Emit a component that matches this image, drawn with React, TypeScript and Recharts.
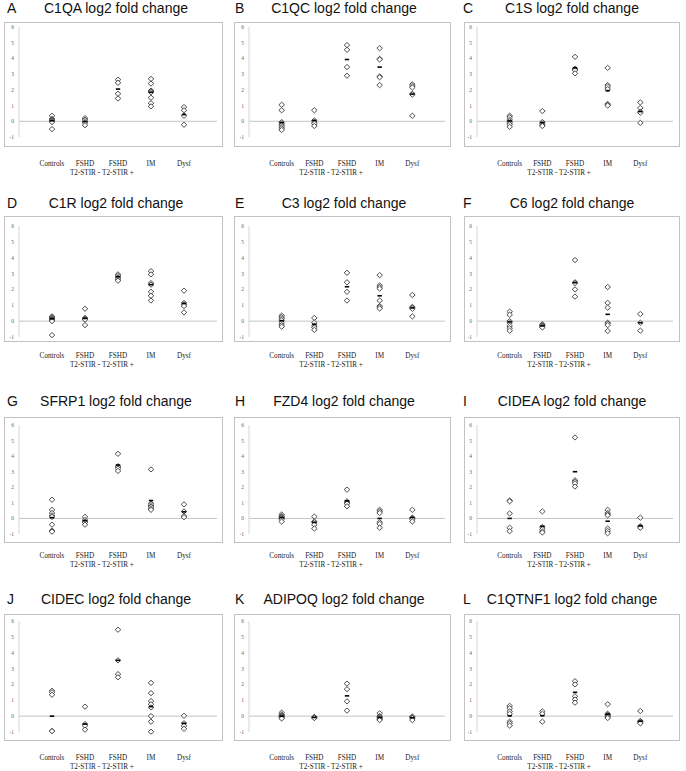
import React from 'react';
import { ScatterChart, Scatter, XAxis, YAxis, ReferenceLine } from 'recharts';

// ---------- categories / ticks ----------
const categories = ['Controls', 'FSHD\nT2-STIR -', 'FSHD\nT2-STIR +', 'IM', 'Dysf'];
const yTicks = [-1, 0, 1, 2, 3, 4, 5, 6];

// ---------- data (log2 fold change per group; means shown as dashes) ----------
const C1QA_points = [
  [0.35, 0.15, 0.1, 0.05, 0.0, -0.05, -0.5],
  [0.2, 0.1, 0.0, -0.1, -0.25],
  [2.65, 2.45, 1.75, 1.45],
  [2.7, 2.4, 1.95, 1.9, 1.85, 1.5, 1.15, 0.95],
  [0.9, 0.7, 0.35, -0.22],
];
const C1QA_means = [0.03, -0.02, 2.05, 1.85, 0.43];

const C1QC_points = [
  [1.05, 0.7, -0.05, -0.15, -0.25, -0.35, -0.45, -0.55],
  [0.7, 0.05, -0.05, -0.15, -0.3],
  [4.85, 4.55, 3.45, 2.9],
  [4.65, 3.97, 3.93, 2.85, 2.8, 2.3],
  [2.35, 2.25, 2.15, 1.75, 1.7, 0.35],
];
const C1QC_means = [-0.08, 0.05, 3.93, 3.45, 1.73];

const C1S_points = [
  [0.35, 0.25, 0.1, 0.0, -0.1, -0.2, -0.35],
  [0.65, -0.05, -0.15, -0.25, -0.3],
  [4.1, 3.35, 3.3, 3.25, 3.05],
  [3.4, 2.3, 2.2, 2.05, 1.1, 1.05, 1.0],
  [1.2, 0.85, 0.6, 0.55, -0.1],
];
const C1S_means = [0.02, -0.08, 3.4, 1.95, 0.62];

const C1R_points = [
  [0.3, 0.25, 0.2, 0.15, 0.1, 0.05, 0.0, -0.88],
  [0.78, 0.2, 0.15, 0.1, -0.25],
  [2.95, 2.85, 2.75, 2.65, 2.55],
  [3.15, 2.95, 2.4, 2.3, 1.85, 1.6, 1.3],
  [1.92, 1.15, 1.05, 0.95, 0.55],
];
const C1R_means = [0.15, 0.17, 2.8, 2.3, 1.12];

const C3_points = [
  [0.35, 0.25, 0.15, 0.05, -0.1, -0.25, -0.35],
  [0.2, -0.1, -0.3, -0.4, -0.55],
  [3.05, 2.45, 1.85, 1.3],
  [2.9, 2.25, 2.15, 2.05, 1.3, 0.95, 0.9, 0.8],
  [1.65, 0.9, 0.85, 0.78, 0.3],
];
const C3_means = [0.02, -0.2, 2.17, 1.6, 0.83];

const C6_points = [
  [0.6, 0.4, 0.0, -0.1, -0.3, -0.45, -0.6],
  [-0.2, -0.25, -0.3, -0.35, -0.4],
  [3.85, 2.45, 2.4, 2.0, 1.55],
  [2.15, 1.15, 0.85, -0.1, -0.15, -0.25, -0.62],
  [0.45, -0.1, -0.6],
];
const C6_means = [-0.05, -0.3, 2.43, 0.43, -0.1];

const SFRP1_points = [
  [1.2, 0.55, 0.35, 0.2, 0.1, -0.4, -0.78, -0.85],
  [0.1, -0.1, -0.2, -0.25, -0.4],
  [4.15, 3.35, 3.3, 3.2, 3.05],
  [3.15, 0.95, 0.85, 0.75, 0.65, 0.55],
  [0.9, 0.45, 0.15, 0.08],
];
const SFRP1_means = [0.05, -0.15, 3.43, 1.15, 0.42];

const FZD4_points = [
  [0.25, 0.15, 0.1, 0.05, 0.0, -0.05, -0.2],
  [0.12, -0.2, -0.25, -0.4, -0.65],
  [1.85, 1.1, 1.0, 0.95, 0.78],
  [0.55, 0.45, 0.35, -0.25, -0.35, -0.6],
  [0.55, 0.05, 0.0, -0.05, -0.2],
];
const FZD4_means = [0.05, -0.25, 1.13, 0.0, 0.06];

const CIDEA_points = [
  [1.15, 1.1, 0.32, -0.6, -0.82],
  [0.45, -0.55, -0.7, -0.85, -0.9],
  [5.2, 2.45, 2.35, 2.25, 2.05],
  [0.55, 0.35, 0.25, 0.2, -0.65, -0.8, -0.95],
  [0.05, -0.5, -0.55, -0.6],
];
const CIDEA_means = [0.0, -0.5, 3.0, -0.18, -0.48];

const CIDEC_points = [
  [1.6, 1.5, 1.35, -0.93, -0.95],
  [0.6, -0.5, -0.6, -0.85],
  [5.45, 3.52, 2.65, 2.45],
  [2.1, 1.45, 0.95, 0.75, 0.55, 0.0, -0.35, -0.98],
  [0.02, -0.45, -0.62, -0.8],
];
const CIDEC_means = [0.0, -0.5, 3.52, 0.6, -0.45];

const ADIPOQ_points = [
  [0.22, 0.1, 0.05, 0.0, -0.05, -0.1, -0.15],
  [-0.05, -0.08, -0.1, -0.12],
  [2.05, 1.7, 0.93, 0.35],
  [0.18, 0.0, -0.05, -0.1, -0.15, -0.2, -0.25],
  [-0.02, -0.08, -0.12, -0.25],
];
const ADIPOQ_means = [0.0, -0.08, 1.28, -0.08, -0.1];

const C1QTNF1_points = [
  [0.65, 0.5, 0.3, 0.15, -0.35, -0.45, -0.6],
  [0.3, 0.15, -0.35],
  [2.2, 2.0, 1.25, 1.05, 0.85],
  [0.75, 0.15, 0.1, 0.05, 0.0, -0.05, -0.12],
  [0.32, -0.3, -0.35, -0.4, -0.45],
];
const C1QTNF1_means = [0.02, 0.03, 1.5, 0.12, -0.32];

const panelLetters = ['A', 'B', 'C', 'D', 'E', 'F', 'G', 'H', 'I', 'J', 'K', 'L'];
const geneNames = ['C1QA', 'C1QC', 'C1S', 'C1R', 'C3', 'C6', 'SFRP1', 'FZD4', 'CIDEA', 'CIDEC', 'ADIPOQ', 'C1QTNF1'];
const panelPoints = [C1QA_points, C1QC_points, C1S_points, C1R_points, C3_points, C6_points, SFRP1_points, FZD4_points, CIDEA_points, CIDEC_points, ADIPOQ_points, C1QTNF1_points];
const panelMeans = [C1QA_means, C1QC_means, C1S_means, C1R_means, C3_means, C6_means, SFRP1_means, FZD4_means, CIDEA_means, CIDEC_means, ADIPOQ_means, C1QTNF1_means];

// ---------- layout ----------
const CHART_W = 228;
const CHART_H = 193;
const X_AXIS_H = 30;
const COLS = [
  { x: 0, plotLeft: 19, plotRight: 217, boxL: 4, boxR: 222 },
  { x: 228, plotLeft: 249, plotRight: 445, boxL: 234, boxR: 450 },
  { x: 456, plotLeft: 477, plotRight: 673, boxL: 464, boxR: 679 },
];
const ROWS = [
  { top: 0, boxTop: 22, boxBottom: 146, y6: 27, yM1: 137, labelOff: 26, titleBase: 12.5 },
  { top: 193, boxTop: 216, boxBottom: 341, y6: 226, yM1: 337, labelOff: 18, titleBase: 208 },
  { top: 385, boxTop: 417, boxBottom: 542, y6: 425, yM1: 534, labelOff: 21, titleBase: 406 },
  { top: 578, boxTop: 614, boxBottom: 740, y6: 621, yM1: 732, labelOff: 25, titleBase: 604 },
];

const Diamond = (props: any) => {
  const { cx, cy } = props;
  if (cx == null || cy == null) return null;
  const w = 2.8;
  const h = 2.6;
  return (
    <path
      d={`M${cx},${cy - h} L${cx + w},${cy} L${cx},${cy + h} L${cx - w},${cy} Z`}
      fill="#ffffff"
      stroke="#333333"
      strokeWidth={0.85}
    />
  );
};

const Dash = (props: any) => {
  const { cx, cy } = props;
  if (cx == null || cy == null) return null;
  return <rect x={cx - 2.2} y={cy - 0.8} width={4.4} height={1.6} fill="#000000" />;
};

const CatTick = (props: any) => {
  const { x, y, payload, off } = props;
  const label = categories[payload.value - 1] || '';
  const lines = label.split('\n');
  return (
    <text
      x={x}
      y={y + off + 2.5}
      textAnchor="middle"
      fontSize={7.2}
      fontFamily="'Liberation Serif', 'Times New Roman', serif"
      fill="#222222"
    >
      {lines.map((l: string, i: number) => (
        <tspan key={i} x={x} dy={i === 0 ? 0 : 9}>
          {l}
        </tspan>
      ))}
    </text>
  );
};

const Panel = ({ idx }: { idx: number }) => {
  const col = COLS[idx % 3];
  const row = ROWS[Math.floor(idx / 3)];
  const pts: { x: number; y: number }[] = [];
  panelPoints[idx].forEach((grp, gi) => grp.forEach((v) => pts.push({ x: gi + 1, y: v })));
  const means = panelMeans[idx].map((m, gi) => ({ x: gi + 1, y: m }));
  const margin = {
    top: row.y6 - row.top,
    right: col.x + CHART_W - col.plotRight,
    bottom: CHART_H - (row.yM1 - row.top) - X_AXIS_H,
    left: 0,
  };
  return (
    <div style={{ position: 'absolute', left: col.x, top: row.top, width: CHART_W, height: CHART_H }}>
      <ScatterChart width={CHART_W} height={CHART_H} margin={margin}>
        <XAxis
          type="number"
          dataKey="x"
          domain={[0, 6]}
          ticks={[1, 2, 3, 4, 5]}
          interval={0}
          axisLine={false}
          tickLine={false}
          tickSize={0}
          tickMargin={0}
          height={X_AXIS_H}
          tick={(p: any) => <CatTick {...p} off={row.labelOff} />}
        />
        <YAxis
          type="number"
          dataKey="y"
          domain={[-1, 6]}
          ticks={yTicks}
          interval={0}
          width={col.plotLeft - col.x}
          axisLine={{ stroke: '#d6d6d6', strokeWidth: 1 }}
          tickLine={false}
          tickSize={0}
          tickMargin={5}
          tick={{ fontSize: 5.5, fill: '#666666', fontFamily: "'Liberation Serif', serif" }}
        />
        <ReferenceLine y={0} stroke="#c4c4c4" strokeWidth={1} />
        <Scatter data={pts} shape={Diamond} isAnimationActive={false} />
        <Scatter data={means} shape={Dash} isAnimationActive={false} />
      </ScatterChart>
    </div>
  );
};

export default function App() {
  return (
    <div style={{ position: 'absolute', left: 0, top: 0, width: 686, height: 771, background: '#ffffff', overflow: 'hidden' }}>
      {panelLetters.map((_, i) => (
        <Panel key={i} idx={i} />
      ))}
      <svg width={686} height={771} style={{ position: 'absolute', left: 0, top: 0, pointerEvents: 'none' }}>
        {panelLetters.map((letter, i) => {
          const col = COLS[i % 3];
          const row = ROWS[Math.floor(i / 3)];
          return (
            <g key={i}>
              <rect
                x={col.boxL + 0.5}
                y={row.boxTop + 0.5}
                width={col.boxR - col.boxL}
                height={row.boxBottom - row.boxTop}
                fill="none"
                stroke="#c2c2c2"
                strokeWidth={1}
              />
              <text
                x={col.x + 7}
                y={row.titleBase}
                fontSize={14}
                fontFamily="'Liberation Sans', Arial, sans-serif"
                fill="#111111"
              >
                {letter}
              </text>
              <text
                x={col.x + 116}
                y={row.titleBase}
                textAnchor="middle"
                fontSize={14}
                fontFamily="'Liberation Sans', Arial, sans-serif"
                fill="#111111"
              >
                {geneNames[i] + ' log2 fold change'}
              </text>
            </g>
          );
        })}
      </svg>
    </div>
  );
}
